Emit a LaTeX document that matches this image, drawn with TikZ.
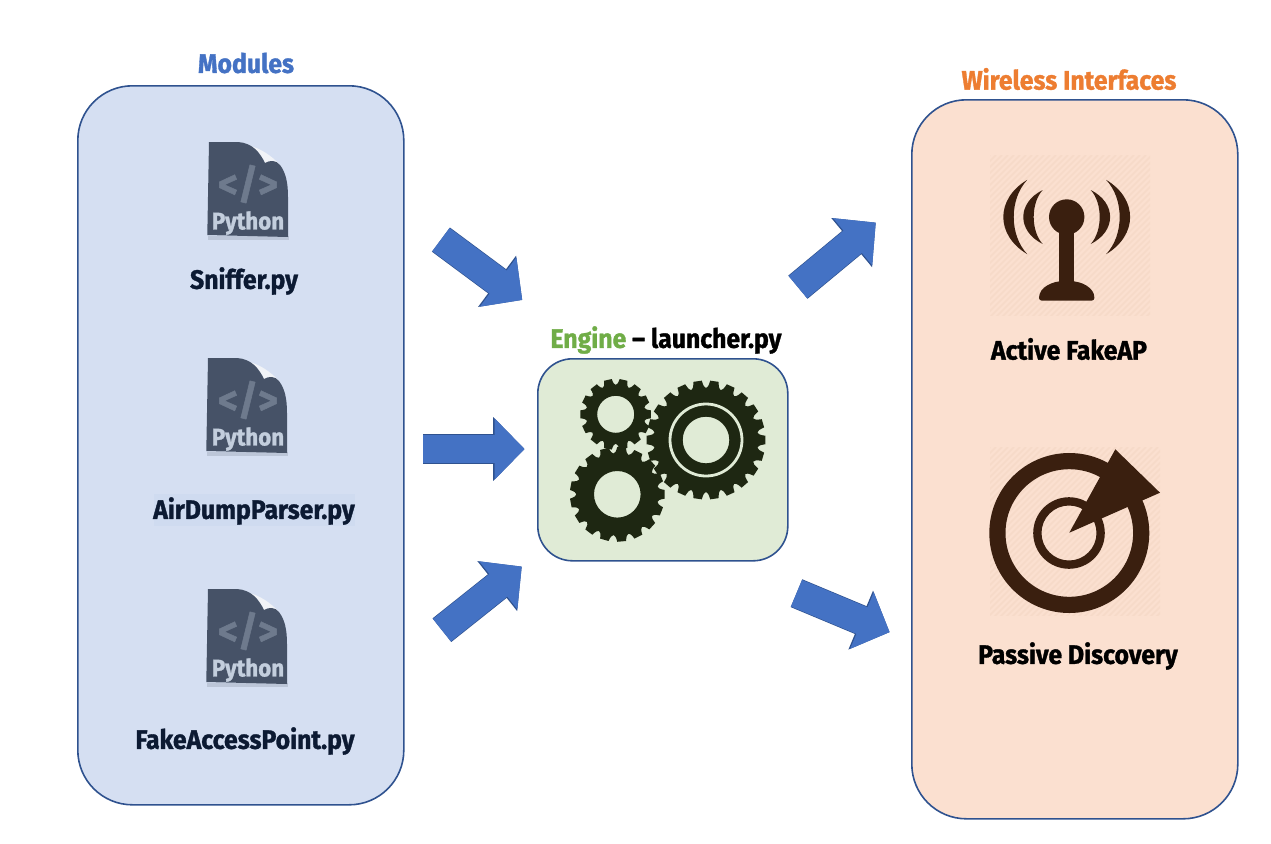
\documentclass[tikz,border=0pt]{standalone}
\usepackage{fontspec}
\setmainfont{Fira Sans}[BoldFeatures={FakeBold=1.2,FakeStretch=0.93}]
\usetikzlibrary{arrows.meta}
\definecolor{modfill}{HTML}{D5DFF2}
\definecolor{wifill}{HTML}{FBE0D0}
\definecolor{engfill}{HTML}{E0EBD6}
\definecolor{edgeblue}{HTML}{2F528F}
\definecolor{arrowblue}{HTML}{4472C4}
\definecolor{gearcol}{HTML}{1E2712}
\definecolor{brownicon}{HTML}{3A1F0F}
\definecolor{stripe}{HTML}{F6DAC8}
\definecolor{pyfile}{HTML}{465267}
\definecolor{pytext}{HTML}{C3CEDD}
\definecolor{pysym}{HTML}{6E7A8D}
\definecolor{pyshadow}{HTML}{A9B3C4}
\definecolor{pycurl}{HTML}{F1F3F7}
\definecolor{labelnavy}{HTML}{0C1A33}
\definecolor{titleorange}{HTML}{ED7D31}
\definecolor{titlegreen}{HTML}{70AD47}
\definecolor{hilite}{HTML}{CFDBF0}
\tikzset{
  panel/.style={draw=edgeblue,line width=1.2pt},
  lbl/.style={font=\bfseries\fontsize{20}{22}\selectfont,inner sep=0pt,anchor=center},
  flow/.style={
    preaction={draw,edgeblue,line width=22.6pt,-{Triangle[length=23.5pt,width=46.5pt]}},
    line width=21.6pt,arrowblue,shorten >=0.7pt,shorten <=0.4pt,-{Triangle[length=22.5pt,width=44.6pt]}},
}
% gear: cx cy outer root teeth hole
\newcommand{\gearshape}[6]{%
  \pgfmathsetmacro{\stp}{360/#5}%
  \pgfmathsetmacro{\hw}{\stp*0.25}%
  \pgfmathsetmacro{\rc}{#3-(#3-#4)*4/3}%
  \begin{scope}[shift={(#1,#2)}]
  \fill[gearcol,even odd rule] (\hw:#3)
   \foreach \k [evaluate=\k as \b using (\k-1)*\stp+\hw, evaluate=\k as \c using \k*\stp-\hw,
                evaluate=\k as \mone using (\k-0.5)*\stp-\stp*0.1, evaluate=\k as \mtwo using (\k-0.5)*\stp+\stp*0.1] in {1,...,#5}{
     -- (\b:#3) .. controls (\mone:\rc) and (\mtwo:\rc) .. (\c:#3)
   } -- cycle (0,0) circle (#6);
  \end{scope}%
}
\newcommand{\pyicon}[2]{%
  \begin{scope}[shift={(#1,#2)}]
   \fill[pyshadow,opacity=.55] (-0.5,2) -- (80.5,2) -- (80.5,-2) -- (-0.5,-2) -- cycle;
   \fill[pycurl] (42,-92) .. controls (52,-90) and (64,-82) .. (72,-73) .. controls (68,-78) and (62,-78) .. (57,-75) .. controls (54,-82) and (50,-88) .. (42,-92) -- cycle;
   \fill[pyfile] (1,-96) -- (30,-96) .. controls (45,-95) and (52,-85) .. (57,-75)
     .. controls (62,-78) and (68,-78) .. (72,-73)
     .. controls (78,-65) and (80,-55) .. (80,-41) -- (80,-1) -- (-0.7,-3) -- cycle;
  \end{scope}%
}
\begin{document}
\begin{tikzpicture}[x=0.75pt,y=-0.75pt]
\useasboundingbox (0,0) rectangle (1271,843);
\fill[white] (0,0) rectangle (1271,843);
% panels
\node[panel,fill=modfill,rounded corners=41pt,minimum width=244.5pt,minimum height=539.25pt,anchor=north west,inner sep=0pt] (modules) at (77,85) {};
\node[panel,fill=wifill,rounded corners=41pt,minimum width=244.5pt,minimum height=539.25pt,anchor=north west,inner sep=0pt] (wireless) at (911,99) {};
\node[panel,fill=engfill,rounded corners=26pt,minimum width=187.5pt,minimum height=151.5pt,anchor=north west,inner sep=0pt] (engine) at (537,358) {};
% titles
\node[lbl,text=arrowblue] (tmod) at (246,63) {Modules};
\node[lbl,text=titleorange] (twi) at (1069,79) {Wireless Interfaces};
\node[lbl] (teng) at (666,340) {\textcolor{titlegreen}{Engine} – launcher.py};
% python icons
\pyicon{208}{238}
\pyicon{207}{454}
\pyicon{207}{685}
\foreach \n/\y in {a/238,b/454,c/685}{
  \node[font=\bfseries\fontsize{31}{31}\selectfont,text=pysym,inner sep=0pt] (sym\n) at (248,\y-54) {</>};
  \node[font=\bfseries\fontsize{18}{18}\selectfont,text=pytext,inner sep=0pt] (py\n) at (248,\y-15) {Python};
}
\fill[hilite] (154,494) rectangle (355,526);
\node[lbl,text=labelnavy] (l1) at (244,281) {Sniffer.py};
\node[lbl,text=labelnavy] (l2) at (254,511) {AirDumpParser.py};
\node[lbl,text=labelnavy] (l3) at (245,741) {FakeAccessPoint.py};
\node[lbl,text=black] (l4) at (1069,349) {Active FakeAP};
\node[lbl,text=black] (l5) at (1078,656) {Passive Discovery};
% gears
\gearshape{615.7}{414.3}{35.5}{29.5}{14}{18.5}
\gearshape{706}{440}{59.5}{52}{22}{23.3}
\draw[engfill,line width=2.1pt] (706,440) circle (36);
\gearshape{617.3}{494.3}{47.5}{41}{17}{23.3}
% antenna
\begin{scope}
 \clip (990,155) rectangle (1150,315);
 \foreach \i in {0,...,60}{ \draw[stripe,line width=1.2pt] (990+\i*6,155) -- (990+\i*6-170,325); }
\end{scope}
\begin{scope}[shift={(1066.7,217)}]
 \foreach \s in {1,-1}{
  \begin{scope}[xscale=\s]
   \fill[brownicon] (-39.4,-37.2) .. controls (-71.4,-18) and (-71.4,18) .. (-39.4,37.2) .. controls (-57.5,18) and (-57.5,-18) .. (-39.4,-37.2) -- cycle;
   \fill[brownicon] (-24,-27) .. controls (-49.9,-14) and (-49.9,14) .. (-24,27) .. controls (-36,14) and (-36,-14) .. (-24,-27) -- cycle;
  \end{scope}
 }
 \fill[brownicon] (0,0) circle (17.7);
 \fill[brownicon] (-7.6,0) rectangle (7.6,70);
 \fill[brownicon,rounded corners=2pt] (-27.7,83.6) .. controls (-27.7,70) and (-14,64) .. (0,64) .. controls (14,64) and (27.7,70) .. (27.7,83.6) -- cycle;
\end{scope}
% target
\begin{scope}
 \clip (990,447) rectangle (1160,615);
 \foreach \i in {0,...,60}{ \draw[stripe,line width=1.2pt] (990+\i*6,447) -- (990+\i*6-170,617); }
\end{scope}
\fill[brownicon,even odd rule] (1069.3,533) circle (80) circle (63.8);
\fill[brownicon,even odd rule] (1069,533) circle (35.8) circle (27.5);
\fill[brownicon] (1069.3,532.7) -- (1115.3,449.3) -- (1160,492.7) -- cycle;
% connectors
\coordinate (a1s) at (440.5,239.3); \coordinate (a1e) at (523,300.5);
\coordinate (a2s) at (422.5,449); \coordinate (a2e) at (525.5,449);
\coordinate (a3s) at (441.5,630.5); \coordinate (a3e) at (522.5,566);
\coordinate (a4s) at (797.5,287.5); \coordinate (a4e) at (876.5,222);
\coordinate (a5s) at (796,593); \coordinate (a5e) at (890.5,632.5);
\draw[flow] (a1s) -- (a1e);
\draw[flow] (a2s) -- (a2e);
\draw[flow] (a3s) -- (a3e);
\draw[flow] (a4s) -- (a4e);
\draw[flow] (a5s) -- (a5e);
\end{tikzpicture}
\end{document}
